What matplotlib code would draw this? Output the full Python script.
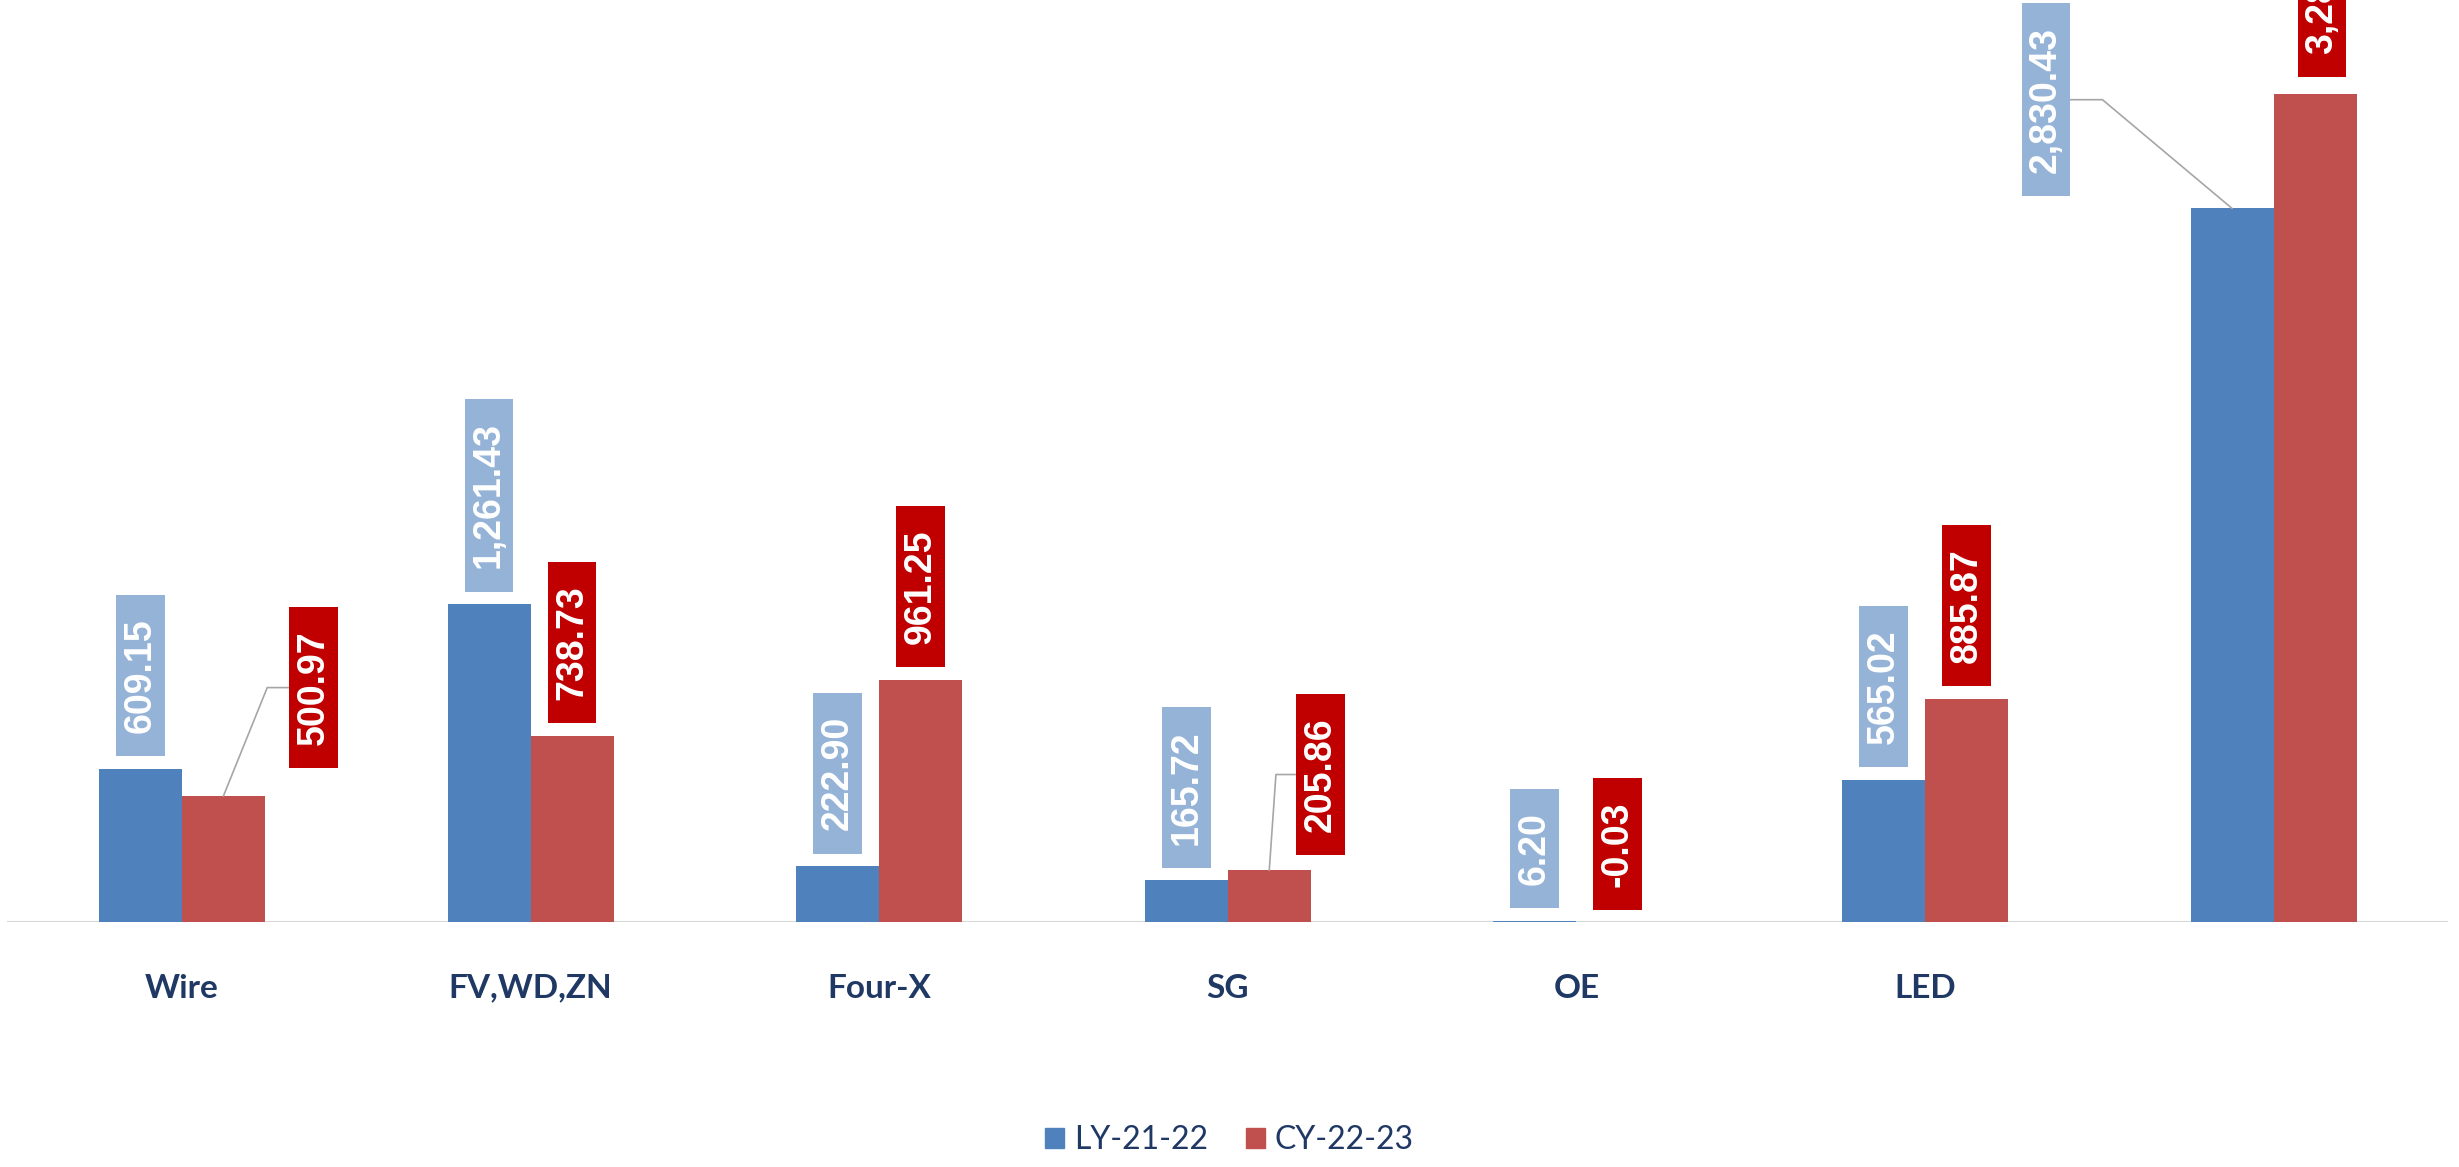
import matplotlib
matplotlib.use("Agg")
import matplotlib.pyplot as plt
from matplotlib.path import Path
from matplotlib.patches import Patch
import numpy as np

# data
categories = ['Wire', 'FV,WD,ZN', 'Four-X', 'SG', 'OE', 'LED', '']
ly_21_22 = [609.15, 1261.43, 222.90, 165.72, 6.20, 565.02, 2830.43]
cy_22_23 = [500.97, 738.73, 961.25, 205.86, -0.03, 885.87, 3284.17]
series_names = ['LY-21-22', 'CY-22-23']

# colours
bar_blue = '#4F81BD'
bar_red = '#C0504D'
box_blue = '#95B3D7'
box_red = '#C00000'
navy = '#1F3864'

label_fs = 27
pad_long = 0.62   # padding along the text (fraction of font size)
pad_short = 0.17  # padding across the text


def label_box(x0, y0, width, height, mutation_size):
    # rectangle with more padding along the text than across it
    px = pad_long * mutation_size
    py = pad_short * mutation_size
    verts = [(x0 - px, y0 - py), (x0 + width + px, y0 - py),
             (x0 + width + px, y0 + height + py), (x0 - px, y0 + height + py),
             (x0 - px, y0 - py)]
    return Path(verts, closed=True)


fig = plt.figure(figsize=(24.59, 11.67), dpi=100)
ax = fig.add_axes([0, 0.2097, 1, 0.7903])

x = np.arange(len(categories))
w = 0.238
bars_ly = ax.bar(x, ly_21_22, width=-w, align='edge', color=bar_blue)
bars_cy = ax.bar(x, cy_22_23, width=w, align='edge', color=bar_red)

ax.set_xlim(-0.522, 6.532)
ax.set_ylim(0, 3657)
for s in ax.spines.values():
    s.set_visible(False)
ax.axhline(0, xmin=5 / 1568, xmax=1560 / 1568, color='#D9D9D9', lw=2.2, zorder=0.5)
ax.set_yticks([])
ax.set_xticks(x)
ax.set_xticklabels(categories, fontsize=24, fontweight='bold', family='Lato', color=navy)
ax.tick_params(axis='x', length=0, pad=37)

# label offsets in points (dx, gap, leader angle, side of box the leader leaves from)
base_gap = 9
special_ly = {6: (-134, 9, 140, 'right')}
special_cy = {0: (65, 20, 68, 'left'), 3: (37, 11, 86, 'left'), 6: (5, 12, None, None)}


def add_labels(bars, values, box_col, special):
    for i, (b, v) in enumerate(zip(bars, values)):
        cx = b.get_x() + b.get_width() / 2
        top = max(v, 0)
        txt = f'{v:,.2f}'
        kw = {}
        dx, gap = 0, base_gap
        if i in special:
            dx, gap, angB, side = special[i]
            if angB is not None:
                relx = 0 if side == 'left' else 1
                kw['arrowprops'] = dict(arrowstyle='-', color='#A6A6A6', lw=1.2,
                                        shrinkA=0, shrinkB=0, relpos=(relx, 0.5),
                                        connectionstyle=f'angle,angleA=0,angleB={angB},rad=0')
        ax.annotate(txt, xy=(cx, top), xytext=(dx, gap + pad_long * label_fs),
                    textcoords='offset points', rotation=90, ha='center', va='bottom',
                    fontsize=label_fs, fontweight='bold', family='Liberation Sans',
                    color='white', annotation_clip=False,
                    bbox=dict(boxstyle=label_box, fc=box_col, ec='none'), **kw)


add_labels(bars_ly, ly_21_22, box_blue, special_ly)
add_labels(bars_cy, cy_22_23, box_red, special_cy)

handles = [Patch(color=bar_blue), Patch(color=bar_red)]
leg = fig.legend(handles, series_names, loc='center', bbox_to_anchor=(0.5, 0.023),
                 ncol=2, frameon=False, handlelength=0.6, handleheight=0.6,
                 handletextpad=0.3, columnspacing=1.2,
                 prop={'family': 'Lato', 'size': 23})
for t in leg.get_texts():
    t.set_color(navy)

fig.savefig('out.png', dpi=100)
